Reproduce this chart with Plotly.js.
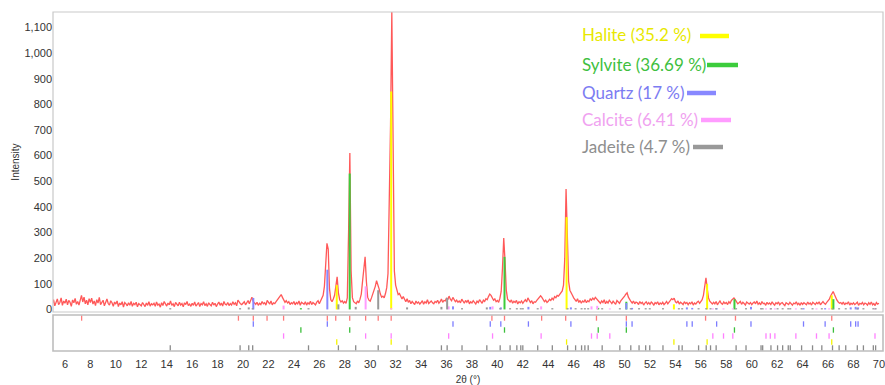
<!DOCTYPE html>
<html>
<head>
<meta charset="utf-8">
<script src="https://cdn.plot.ly/plotly-3.0.1.min.js"></script>
<style>
  html, body { margin: 0; padding: 0; background: #fff; }
  #chart { width: 885px; height: 385px; }
</style>
</head>
<body>
<div id="chart"></div>
<script>
// Measured diffractogram: counts sampled every 0.1° 2θ starting at 5.0°
const START = 5.0;
const STEP = 0.1;
const intensity = [
  22, 38, 14, 30, 41, 19, 27, 45, 16, 33,   // 5
  24, 40, 18, 35, 28, 12, 37, 26, 43, 20,   // 6
  31, 17, 39, 55, 29, 48, 22, 36, 18, 42,   // 7
  27, 44, 21, 33, 15, 38, 25, 47, 19, 30,   // 8
  36, 14, 28, 41, 23, 17, 34, 26, 12, 29,   // 9
  21, 33, 11, 25, 18, 30, 9, 27, 22, 14,    // 10
  26, 16, 31, 12, 24, 19, 28, 10, 23, 17,   // 11
  14, 27, 20, 11, 25, 16, 30, 13, 22, 18,   // 12
  24, 12, 29, 17, 21, 9, 26, 15, 31, 19,    // 13
  13, 25, 18, 33, 16, 22, 11, 27, 20, 14,   // 14
  28, 17, 23, 10, 26, 19, 31, 15, 21, 12,   // 15
  24, 16, 29, 13, 20, 27, 11, 23, 18, 30,   // 16
  15, 22, 12, 26, 19, 14, 28, 17, 24, 11,   // 17
  21, 29, 16, 25, 13, 31, 20, 18, 27, 15,   // 18
  23, 17, 30, 20, 26, 14, 36, 28, 22, 19,   // 19
  25, 30, 18, 27, 35, 22, 33, 48, 31, 24,   // 20
  20, 28, 16, 24, 19, 31, 22, 26, 17, 35,   // 21
  29, 21, 33, 18, 26, 23, 30, 38, 44, 52,   // 22
  58, 47, 39, 28, 34, 25, 30, 19, 26, 22,   // 23
  31, 18, 27, 22, 33, 16, 28, 24, 20, 30,   // 24
  17, 26, 21, 32, 19, 27, 24, 18, 29, 34,   // 25
  22, 31, 40, 55, 90, 200, 258, 235, 80, 38, // 26
  30, 41, 55, 90, 127, 65, 38, 29, 34, 25,  // 27
  31, 24, 45, 300, 610, 150, 46, 30, 27, 22, // 28
  33, 26, 40, 60, 110, 170, 205, 110, 48, 36, // 29
  32, 45, 58, 72, 90, 112, 98, 80, 60, 48,  // 30
  52, 45, 62, 85, 140, 420, 720, 1160, 470, 150, // 31
  95, 70, 58, 62, 48, 41, 50, 36, 30, 42,   // 32
  28, 35, 22, 31, 26, 19, 33, 24, 29, 21,   // 33
  27, 34, 20, 30, 25, 38, 23, 29, 33, 26,   // 34
  22, 31, 27, 36, 24, 30, 41, 28, 35, 33,   // 35
  45, 38, 52, 40, 34, 47, 39, 30, 36, 28,   // 36
  33, 26, 40, 31, 24, 35, 28, 37, 22, 30,   // 37
  25, 34, 29, 21, 32, 27, 38, 30, 24, 36,   // 38
  31, 42, 38, 50, 60, 55, 44, 36, 41, 30,   // 39
  35, 28, 44, 70, 160, 278, 190, 75, 40, 33, // 40
  29, 37, 24, 32, 27, 35, 21, 30, 26, 33,   // 41
  24, 31, 38, 29, 45, 36, 27, 34, 22, 30,   // 42
  28, 35, 41, 49, 53, 47, 39, 30, 36, 27,   // 43
  32, 40, 35, 44, 38, 50, 46, 55, 52, 60,   // 44
  64, 72, 95, 200, 470, 330, 110, 75, 62, 55, // 45
  45, 38, 31, 42, 27, 35, 24, 33, 29, 38,   // 46
  26, 34, 30, 41, 36, 44, 38, 47, 42, 35,   // 47
  30, 24, 33, 27, 38, 22, 31, 25, 36, 29,   // 48
  23, 32, 27, 20, 35, 28, 24, 33, 38, 45,   // 49
  52, 60, 65, 48, 38, 31, 25, 33, 22, 29,   // 50
  26, 19, 31, 23, 28, 17, 25, 30, 21, 27,   // 51
  20, 29, 24, 16, 27, 22, 30, 18, 25, 21,   // 52
  28, 19, 24, 31, 22, 27, 35, 42, 38, 44,   // 53
  30, 26, 33, 21, 28, 24, 19, 30, 23, 27,   // 54
  18, 26, 22, 30, 17, 25, 21, 28, 32, 24,   // 55
  30, 38, 55, 95, 123, 80, 45, 32, 26, 21,  // 56
  28, 22, 31, 18, 26, 33, 24, 20, 29, 23,   // 57
  27, 19, 30, 24, 35, 41, 45, 38, 30, 22,   // 58
  26, 31, 20, 28, 23, 17, 29, 24, 21, 27,   // 59
  19, 25, 29, 22, 33, 20, 26, 18, 31, 23,   // 60
  24, 16, 28, 21, 25, 19, 30, 22, 17, 26,   // 61
  22, 29, 18, 24, 27, 20, 15, 26, 23, 19,   // 62
  28, 21, 17, 25, 22, 30, 19, 24, 16, 27,   // 63
  20, 26, 23, 18, 29, 21, 25, 17, 28, 22,   // 64
  19, 27, 22, 30, 18, 25, 31, 24, 20, 28,   // 65
  33, 40, 52, 65, 70, 58, 45, 36, 29, 24,   // 66
  27, 21, 29, 18, 25, 22, 30, 17, 24, 20,   // 67
  26, 19, 23, 28, 16, 24, 21, 27, 18, 25,   // 68
  22, 17, 26, 20, 29, 18, 23, 15, 27, 21,   // 69
  24                                        // 70
];

// Observed peak positions (2θ)
const peakList = [7.31, 19.64, 20.81, 21.89, 23.19, 26.63, 27.29, 28.39, 29.64, 30.63,
  31.65, 39.57, 40.56, 43.48, 45.37, 47.79, 50.14, 56.37, 58.72, 66.29];

// Reference lines for each identified phase: position (2θ) and scaled height (counts)
const halitePos = [27.37, 31.65, 45.44, 53.88, 56.49, 66.29];
const haliteHt  = [95, 850, 360, 20, 100, 55];

const sylvitePos = [24.55, 28.39, 40.56, 47.93, 50.14, 58.64, 66.42];
const sylviteHt  = [5, 530, 205, 6, 30, 40, 40];

const quartzPos = [20.81, 26.63, 36.51, 39.44, 40.27, 42.44, 45.78, 50.14, 50.59, 54.9,
  55.32, 57.24, 59.94, 64.07, 65.77, 67.78, 68.17, 68.36];
const quartzHt  = [45, 155, 12, 10, 8, 10, 8, 25, 6, 8, 6, 5, 10, 5, 5, 8, 10, 8];

const calcitePos = [23.19, 29.64, 31.65, 36.17, 39.62, 43.44, 47.4, 47.85, 48.84, 56.94,
  57.78, 58.51, 61.12, 61.46, 61.82, 63.47, 65.09, 66.08, 69.69];
const calciteHt  = [15, 90, 5, 12, 12, 12, 12, 14, 4, 4, 4, 4, 4, 4, 4, 4, 4, 4, 4];

const jadeitePos = [14.28, 19.77, 20.45, 20.76, 25.15, 27.5, 28.86, 30.63, 32.9, 35.6,
  36.05, 37.22, 39.17, 40.22, 41.0, 41.53, 41.84, 42.0, 43.17, 44.32, 45.52, 46.15,
  46.62, 46.88, 47.14, 48.24, 49.63, 50.49, 51.14, 51.66, 51.98, 53.02, 54.27, 54.53,
  55.82, 56.42, 56.76, 57.2, 58.77, 59.55, 60.73, 60.86, 61.51, 62.03, 62.43, 62.87,
  63.03, 63.92, 64.78, 65.51, 66.35, 66.87, 67.39, 68.3, 68.78, 69.56, 69.74];
const jadeiteHt  = [5, 5, 8, 5, 5, 20, 10, 75, 8, 10, 45, 5, 8, 5, 5, 5, 5, 5, 5, 5, 5, 5,
  5, 5, 5, 5, 5, 5, 5, 5, 5, 5, 5, 5, 5, 5, 5, 5, 5, 5, 5, 5, 5, 5, 5, 5,
  5, 5, 5, 5, 5, 5, 5, 5, 5, 5, 5];

const phaseLabels = ['Halite (35.2 %)', 'Sylvite (36.69 %)', 'Quartz (17 %)', 'Calcite (6.41 %)', 'Jadeite (4.7 %)'];
const phaseText   = ['#e8e800', '#3fbf3f', '#7c7cf2', '#f0a2f0', '#8e8e8e'];
const phaseLine   = ['#ffff00', '#3ccc3c', '#8888ff', '#ff9cff', '#999999'];

const yTicks = [0, 100, 200, 300, 400, 500, 600, 700, 800, 900, 1000, 1100];
const xTicks = [6, 8, 10, 12, 14, 16, 18, 20, 22, 24, 26, 28, 30, 32, 34, 36, 38,
  40, 42, 44, 46, 48, 50, 52, 54, 56, 58, 60, 62, 64, 66, 68, 70];

const twoTheta = intensity.map((_, i) => +(START + i * STEP).toFixed(2));

// Vertical sticks from base to top (null-separated segments in one trace)
function sticks(pos, base, top, color, width, yaxis) {
  const xs = [], ys = [];
  pos.forEach((p, i) => {
    xs.push(p, p, null);
    ys.push(base(i), top(i), null);
  });
  return { x: xs, y: ys, xaxis: 'x', yaxis: yaxis, mode: 'lines', type: 'scatter',
    line: { color: color, width: width }, hoverinfo: 'skip', showlegend: false };
}

const traces = [{
  x: twoTheta, y: intensity, type: 'scatter', mode: 'lines',
  xaxis: 'x', yaxis: 'y',
  line: { color: 'rgba(255,70,70,0.9)', width: 1.3 },
  hoverinfo: 'skip', showlegend: false
}];

const phases = [
  [halitePos, haliteHt], [sylvitePos, sylviteHt], [quartzPos, quartzHt],
  [calcitePos, calciteHt], [jadeitePos, jadeiteHt]
];

// Phase sticks in the pattern panel
phases.forEach(([pos, ht], k) => {
  traces.push(sticks(pos, () => 0, i => ht[i], phaseLine[k], 2, 'y'));
});

// Position strip: peak list on top row, then one row per phase
const stripColors = ['#ff7a7a', '#7d7dff', '#3cbf3c', '#ff80ff', '#f5f500', '#8a8a8a'];
const stripRows = [peakList, quartzPos, sylvitePos, calcitePos, halitePos, jadeitePos];
stripRows.forEach((pos, r) => {
  const row = 5 - r;
  traces.push(sticks(pos, () => row + 0.05, () => row + 0.95, stripColors[r], 1.3, 'y2'));
});

const W = 885, H = 385, L = 53, R = 2, T = 12, B = 34;
const plotW = W - L - R, plotH = H - T - B;
const px = v => (v - L) / plotW;
const py = v => (H - B - v) / plotH;

const annotations = [];
const shapes = [
  { type: 'rect', xref: 'x domain', yref: 'y domain', x0: 0, x1: 1, y0: 0, y1: 1,
    line: { color: '#c9c9c9', width: 1.2 }, layer: 'above' },
  { type: 'rect', xref: 'x domain', yref: 'y2 domain', x0: 0, x1: 1, y0: 0, y1: 1,
    line: { color: '#bdbdbd', width: 1.6 }, layer: 'above' }
];

const legendY = [35, 64, 92, 119, 146];
const legendLineX = [[700, 729], [707, 738], [687, 716], [701, 731], [693, 723]];
phaseLabels.forEach((lab, k) => {
  annotations.push({
    text: lab, xref: 'paper', yref: 'paper', x: px(580), y: py(legendY[k]),
    xanchor: 'left', yanchor: 'middle', showarrow: false,
    font: { family: 'Lato, "Open Sans", sans-serif', size: 17, color: phaseText[k] }
  });
  shapes.push({
    type: 'line', xref: 'paper', yref: 'paper',
    x0: px(legendLineX[k][0]), x1: px(legendLineX[k][1]),
    y0: py(legendY[k] + 1), y1: py(legendY[k] + 1),
    line: { color: phaseLine[k], width: 4.5 }
  });
});

const axisFont = { family: '"Liberation Sans", Arial, sans-serif', size: 11, color: '#333' };

const layout = {
  width: W, height: H,
  margin: { l: L, r: R, t: T, b: B, pad: 0 },
  paper_bgcolor: '#fff', plot_bgcolor: '#fff',
  showlegend: false,
  xaxis: {
    range: [5.06, 70.32], anchor: 'y2', tickvals: xTicks, ticktext: xTicks.map(String),
    ticks: '', showgrid: false, zeroline: false, showline: false,
    tickfont: axisFont, automargin: false, ticklabelstandoff: 5, ticklabeloverflow: 'allow',
    title: { text: '2θ (°)', font: { family: axisFont.family, size: 10, color: '#333' }, standoff: 12 }
  },
  yaxis: {
    domain: [39 / plotH, 1], range: [-10, 1160], tickvals: yTicks, tickformat: ',',
    ticks: '', showgrid: false, zeroline: false, showline: false,
    tickfont: axisFont, automargin: false,
    title: { text: 'Intensity', font: { family: axisFont.family, size: 10, color: '#333' }, standoff: 2 }
  },
  yaxis2: {
    domain: [0, 36 / plotH], range: [0, 6], showticklabels: false, ticks: '',
    showgrid: false, zeroline: false, showline: false, fixedrange: true
  },
  shapes: shapes,
  annotations: annotations
};

Plotly.newPlot('chart', traces, layout, { staticPlot: true, displayModeBar: false });
</script>
</body>
</html>
